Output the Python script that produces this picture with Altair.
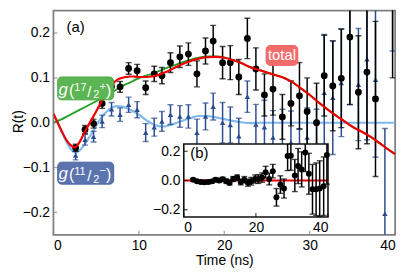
import altair as alt
import pandas as pd

# ---------------- data ----------------
# main panel (a): times of the data points (ns)
t_blue = [2.6, 3.7, 4.7, 5.7, 6.8, 7.8, 8.8, 9.8, 10.8, 11.8, 12.7, 13.7, 14.8, 15.8,
          16.8, 17.8, 18.7, 19.8, 20.7, 21.7, 22.7, 23.7, 24.7, 25.7, 26.8, 27.8, 28.8,
          29.7, 30.8, 31.7, 32.7, 33.7, 34.7, 35.7, 36.7, 37.7, 38.8, 39.7]
v_blue = [-0.073, -0.038, -0.031, 0.003, 0.030, 0.018, 0.040, 0.029, -0.022, -0.010,
          0.003, 0.018, 0.014, 0.014, -0.022, 0.014, 0.036, 0.000, -0.005, -0.030,
          0.058, -0.004, -0.010, -0.033, -0.060, -0.044, -0.090, -0.033, -0.050, 0.067,
          0.056, 0.089, 0.190, 0.085, 0.142, 0.096, -0.203, 0.350]
e_blue = [0.010, 0.012, 0.012, 0.014, 0.015, 0.015, 0.017, 0.018, 0.020, 0.020,
          0.022, 0.022, 0.024, 0.026, 0.030, 0.030, 0.030, 0.045, 0.040, 0.040,
          0.035, 0.045, 0.060, 0.060, 0.090, 0.070, 0.076, 0.066, 0.080, 0.130,
          0.127, 0.120, 0.150, 0.125, 0.180, 0.173, 0.190, 0.190]

t_black = [2.6, 3.7, 4.7, 5.7, 6.8, 7.8, 8.8, 9.8, 10.8, 11.8, 12.7, 13.7, 14.8, 15.8,
           16.8, 17.8, 18.7, 19.8, 20.7, 21.7, 22.7, 23.7, 24.7, 25.7, 26.8, 27.8, 28.8,
           29.7, 30.8, 31.7, 32.7, 33.7, 34.7, 35.7, 36.7, 37.7, 39.7]
v_black = [-0.056, -0.015, -0.002, 0.043, 0.081, 0.080, 0.121, 0.116, 0.078, 0.109,
           0.105, 0.134, 0.147, 0.153, 0.109, 0.160, 0.182, 0.134, 0.134, 0.102,
           0.188, 0.120, 0.062, 0.075, 0.013, 0.043, 0.060, 0.025, 0.000, 0.105,
           0.082, 0.099, 0.191, 0.068, 0.113, 0.053, 0.280]
e_black = [0.008, 0.009, 0.010, 0.011, 0.011, 0.012, 0.013, 0.014, 0.015, 0.017,
           0.018, 0.022, 0.024, 0.025, 0.029, 0.029, 0.035, 0.036, 0.038, 0.039,
           0.045, 0.047, 0.047, 0.058, 0.050, 0.050, 0.074, 0.075, 0.088, 0.090,
           0.100, 0.110, 0.150, 0.126, 0.160, 0.173, 0.180]

# fitted curves
t_fit = [0, 0.5, 1, 1.5, 2, 2.5, 3, 3.5, 4, 4.5, 5, 5.5, 6, 6.5, 7, 7.5, 8, 8.5, 9, 9.5,
         10, 10.5, 11, 11.5, 12, 12.5, 13, 13.5, 14, 15, 16, 17, 18, 19, 20, 21, 22, 23,
         24, 25, 26, 27, 28, 29, 30, 31, 32, 33, 34, 35, 36, 37, 38, 39, 40]
fit_total = [0.020, 0.000, -0.020, -0.038, -0.050, -0.055, -0.045, -0.027, -0.009, 0.008,
             0.025, 0.043, 0.060, 0.076, 0.088, 0.096, 0.100, 0.102, 0.103, 0.103,
             0.102, 0.102, 0.102, 0.103, 0.105, 0.108, 0.112, 0.116, 0.121, 0.130,
             0.137, 0.143, 0.146, 0.147, 0.145, 0.140, 0.133, 0.124, 0.118, 0.112,
             0.106, 0.100, 0.090, 0.076, 0.062, 0.046, 0.031, 0.017, 0.004, -0.009,
             -0.019, -0.030, -0.043, -0.057, -0.070]
fit_g17 = [0.000, 0.004, 0.008, 0.013, 0.018, 0.023, 0.028, 0.033, 0.038, 0.043,
           0.048, 0.053, 0.058, 0.064, 0.070, 0.075, 0.081, 0.086, 0.090, 0.095,
           0.099, 0.103, 0.106, 0.109, 0.113, 0.116, 0.120, 0.124, 0.127, 0.134,
           0.140, 0.145, 0.148, 0.148, 0.146, 0.140, 0.133, 0.124, 0.118, 0.112,
           0.106, 0.100, 0.090, 0.076, 0.062, 0.046, 0.031, 0.017, 0.004, -0.009,
           -0.019, -0.030, -0.043, -0.057, -0.070]
fit_g11 = [0.020, 0.000, -0.022, -0.042, -0.058, -0.066, -0.063, -0.052, -0.038, -0.023,
           -0.007, 0.008, 0.020, 0.029, 0.035, 0.037, 0.036, 0.033, 0.029, 0.024,
           0.018, 0.011, 0.004, -0.002, -0.006, -0.008, -0.008, -0.006, -0.003, 0.004,
           0.010, 0.015, 0.015, 0.012, 0.008, 0.004, 0.001, -0.001, 0.000, 0.000,
           0.000, 0.000, 0.000, 0.000, 0.000, 0.000, 0.000, 0.000, 0.000, 0.000,
           0.000, 0.000, 0.000, 0.000, 0.000]

# inset panel (b): residuals
t_res = t_blue
v_res = [0.005, -0.005, -0.010, -0.012, -0.010, -0.006, 0.005, 0.000, 0.008, -0.005,
         -0.015, 0.010, 0.020, -0.010, 0.005, -0.015, -0.005, 0.010, 0.010, 0.020,
         0.057, 0.010, 0.064, -0.115, -0.028, -0.055, 0.168, 0.170, 0.034, 0.099,
         0.076, 0.191, 0.046, -0.060, -0.060, -0.055, -0.039, 0.175]
e_res = [0.010, 0.010, 0.010, 0.011, 0.011, 0.012, 0.012, 0.013, 0.014, 0.015,
         0.016, 0.017, 0.018, 0.020, 0.022, 0.024, 0.026, 0.028, 0.030, 0.032,
         0.040, 0.040, 0.046, 0.060, 0.060, 0.065, 0.100, 0.100, 0.110, 0.120,
         0.120, 0.130, 0.140, 0.170, 0.180, 0.190, 0.200, 0.200]

# axis tick values
x_ticks = [0, 10, 20, 30, 40]
y_ticks = [-0.2, -0.1, 0.0, 0.1, 0.2]
x_ticks_in = [0, 20, 40]
y_ticks_in = [-0.2, 0.0, 0.2]

# annotation labels (data coordinates of the boxes)
box_names = ["total", "g17", "g11"]
box_t1 = [24.9, 0.5, 0.5]
box_t2 = [28.6, 7.05, 7.05]
box_v1 = [0.128, 0.051, -0.137]
box_v2 = [0.172, 0.102, -0.088]
box_fill = ["#f36c6c", "#5bb552", "#5b74ae"]
box_stroke = ["#ea5c5c", "#4fa847", "#4a64a0"]
label_t = [26.75, 3.78, 3.78]
label_v = [0.150, 0.0765, -0.1125]

FONT = "Liberation Sans"
YMIN, YMAX = -0.25, 0.25

# ---------------- helpers ----------------
def df(**cols):
    return pd.DataFrame(cols)

main_xaxis = alt.Axis(values=x_ticks, format="d", title="Time (ns)", titleY=30,
                      titleBaseline="alphabetic")
main_yaxis = alt.Axis(values=y_ticks, format=".1f", title="R(t)", titleX=-31,
                      titleY=112, titleBaseline="alphabetic", titleAngle=270)
xs = alt.Scale(domain=[0, 40], nice=False, zero=False)
ys = alt.Scale(domain=[YMIN, YMAX], nice=False, zero=False)


def MX(f="t"):
    return alt.X(f"{f}:Q", scale=xs, axis=main_xaxis)


def MY(f="v"):
    return alt.Y(f"{f}:Q", scale=ys, axis=main_yaxis)


def errlayers(t, v, e, color, shape, size, scale_x, scale_y, axx, axy, clip=True, clampcaps=False):
    d = df(t=t, v=v, lo=[a - b for a, b in zip(v, e)], hi=[a + b for a, b in zip(v, e)])
    caps = pd.concat([df(t=t, v=d["lo"]), df(t=t, v=d["hi"])])
    if clampcaps:
        caps = caps[(caps.v > YMIN) & (caps.v < YMAX)]
    X = lambda f: alt.X(f"{f}:Q", scale=scale_x, axis=axx)
    Y = lambda f: alt.Y(f"{f}:Q", scale=scale_y, axis=axy)
    rules = alt.Chart(d).mark_rule(color=color, strokeWidth=1.5, clip=clip).encode(
        x=X("t"), y=Y("lo"), y2="hi")
    capm = alt.Chart(caps).mark_tick(color=color, orient="horizontal", size=6, thickness=1.4,
                                     clip=clip).encode(x=X("t"), y=Y("v"))
    pts = alt.Chart(d).mark_point(shape=shape, filled=True, opacity=1, color=color, size=size,
                                  clip=clip).encode(x=X("t"), y=Y("v"))
    return [rules, capm, pts]


fits = df(t=t_fit, total=fit_total, g17=fit_g17, g11=fit_g11)


def fitline(field, color, width):
    return alt.Chart(fits).mark_line(color=color, strokeWidth=width, interpolate="monotone",
                                     clip=True).encode(x=MX(), y=MY(field))


main_layers = []
main_layers.append(fitline("g11", "#7fb9ee", 2.2))
main_layers.append(fitline("g17", "#1f9e1f", 1.8))
main_layers += errlayers(t_blue, v_blue, e_blue, "#2b4c8e", "triangle-up", 30, xs, ys,
                         main_xaxis, main_yaxis)
main_layers += errlayers(t_black, v_black, e_black, "black", "circle", 48, xs, ys,
                         main_xaxis, main_yaxis)
main_layers.append(fitline("total", "#ee0000", 2.2))

# inward ticks of the main frame
main_layers.append(alt.Chart(df(v=y_ticks, t=[0] * len(y_ticks))).mark_tick(
    orient="horizontal", size=4, thickness=1.3, color="#808080", xOffset=2).encode(
    x=MX(), y=MY()))
main_layers.append(alt.Chart(df(t=x_ticks, v=[YMIN] * len(x_ticks))).mark_tick(
    orient="vertical", size=4, thickness=1.3, color="#808080", yOffset=-2).encode(
    x=MX(), y=MY()))

# label boxes
boxes = df(name=box_names, t=box_t1, t2=box_t2, v=box_v1, v2=box_v2,
           fill=box_fill, stroke=box_stroke)
main_layers.append(alt.Chart(boxes).mark_rect(cornerRadius=4, strokeWidth=1).encode(
    x=MX(), x2="t2", y=MY(), y2="v2",
    fill=alt.Fill("fill:N", scale=None), stroke=alt.Stroke("stroke:N", scale=None)))

lab = df(t=label_t, v=label_v)
main_layers.append(alt.Chart(lab.iloc[[0]]).mark_text(
    text="total", font=FONT, fontSize=15, color="white", baseline="middle", align="center").encode(
    x=MX(), y=MY()))

# pieces of the g(J) labels: text, font size, italic, dx, dy (relative to box centre)
pieces17 = [("g", 17, True, -27.5, 6.3), ("(", 16, False, -17, 7.3), ("17", 11, False, -11.5, 2.3),
            ("/", 15, False, 1.5, 8.3), ("2", 11, False, 7.5, 9.8), ("+", 11, False, 14, 1.3),
            (")", 16, False, 20.5, 7.3)]
pieces11 = [("g", 17, True, -27.5, 6.3), ("(", 16, False, -17, 7.3), ("11", 11, False, -11.5, 2.3),
            ("/", 15, False, 1.5, 8.3), ("2", 11, False, 7.5, 9.8), ("−", 11, False, 14, 1.3),
            (")", 16, False, 20.5, 7.3)]
for row, pieces in ((1, pieces17), (2, pieces11)):
    for txt, fs, it, dx, dy in pieces:
        main_layers.append(alt.Chart(lab.iloc[[row]]).mark_text(
            text=txt, font=FONT, fontSize=fs, fontStyle="italic" if it else "normal",
            color="white", baseline="alphabetic", align="left", dx=dx, dy=dy).encode(
            x=MX(), y=MY()))

main_layers.append(alt.Chart(df(t=[2.6], v=[0.214])).mark_text(
    text="(a)", font=FONT, fontSize=15, color="black", baseline="middle", align="center").encode(
    x=MX(), y=MY()))

main = alt.layer(*main_layers)

# ---------------- inset (b) ----------------
ixs = alt.Scale(domain=[0, 40], range=[132, 278], nice=False, zero=False)
iys = alt.Scale(domain=[YMIN, YMAX], range=[209, 135], nice=False, zero=False, clamp=True)
in_xaxis = alt.Axis(values=x_ticks_in, format="d", title=None, orient="bottom", offset=-18,
                    zindex=1)
in_yaxis = alt.Axis(values=y_ticks_in, format=".1f", title=None, orient="left", offset=-132,
                    zindex=1)


def IX(f="t"):
    return alt.X(f"{f}:Q", scale=ixs, axis=in_xaxis)


def IY(f="v"):
    return alt.Y(f"{f}:Q", scale=iys, axis=in_yaxis)


in_layers = []
in_layers.append(alt.Chart(df(t=[0], t2=[40], v=[YMIN], v2=[YMAX])).mark_rect(
    fill="white", stroke="#111111", strokeWidth=1.6).encode(x=IX(), x2="t2", y=IY(), y2="v2"))
in_layers.append(alt.Chart(df(t=[0, 40], v=[0, 0])).mark_line(
    color="#ee0000", strokeWidth=2).encode(x=IX(), y=IY()))
in_layers += errlayers(t_res, v_res, e_res, "black", "circle", 36, ixs, iys,
                       in_xaxis, in_yaxis, clip=False, clampcaps=True)
in_layers.append(alt.Chart(df(v=y_ticks_in, t=[0] * len(y_ticks_in))).mark_tick(
    orient="horizontal", size=4, thickness=1.2, color="black", xOffset=2).encode(x=IX(), y=IY()))
in_layers.append(alt.Chart(df(t=x_ticks_in, v=[YMIN] * len(x_ticks_in))).mark_tick(
    orient="vertical", size=4, thickness=1.2, color="black", yOffset=-2).encode(x=IX(), y=IY()))
in_layers.append(alt.Chart(df(t=[4.3], v=[0.186])).mark_text(
    text="(b)", font=FONT, fontSize=15, color="black", baseline="middle", align="center").encode(
    x=IX(), y=IY()))

inset = alt.layer(*in_layers)

chart = alt.layer(main, inset).resolve_scale(x="independent", y="independent").properties(
    width=346, height=227,
    autosize=alt.AutoSizeParams(type="none"),
    padding={"left": 46, "top": 1, "right": 12, "bottom": 36},
).configure_view(stroke="#808080", strokeWidth=1.8).configure_axis(
    grid=False, domain=False, ticks=False, tickSize=0, labelPadding=4,
    labelFont=FONT, labelFontSize=14, labelColor="black",
    titleFont=FONT, titleFontSize=14, titleColor="black", titleFontWeight="normal",
).configure_axisX(labelAngle=0)

chart.save("out.html", embed_options={"renderer": "svg", "actions": False})
